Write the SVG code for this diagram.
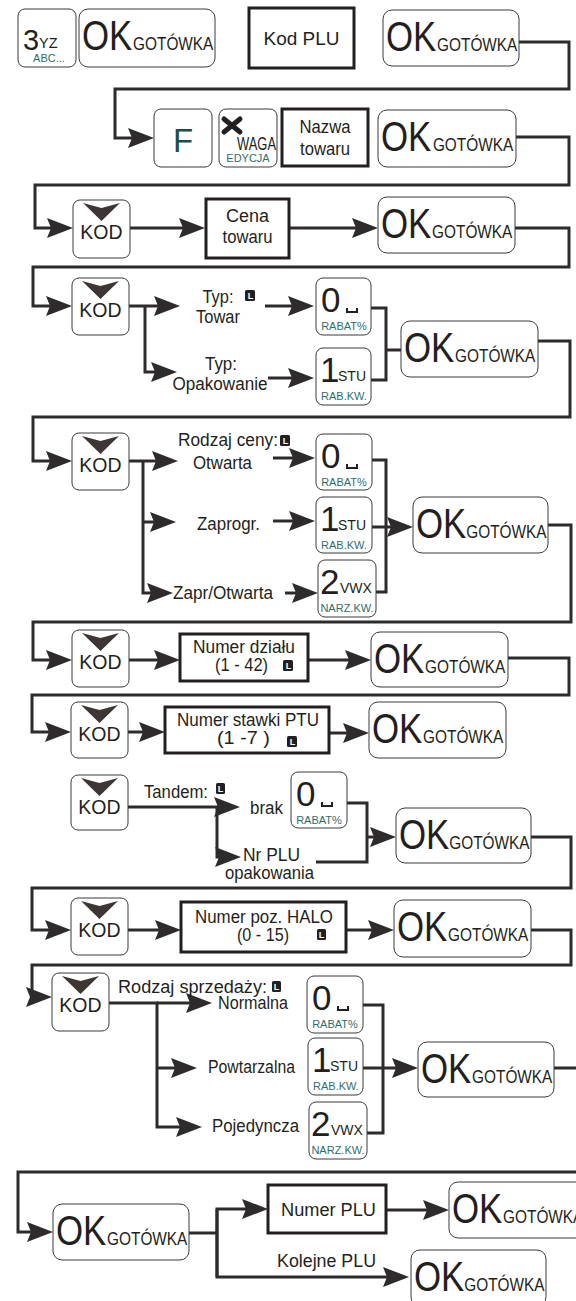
<svg xmlns="http://www.w3.org/2000/svg" width="576" height="1301" viewBox="0 0 576 1301">
<style>
.bg{fill:#fff}
.k{fill:#fff;stroke:#3a3a3a;stroke-width:1}
.bx{fill:#fff;stroke:#231f20;stroke-width:3}
.ln{fill:none;stroke:#2e2b2c;stroke-width:3}
.ar{marker-end:url(#ah)}
.t{font-family:"Liberation Sans",Arial,sans-serif;fill:#231f20}
.m{text-anchor:middle}
.ok{font-size:43px}
.gt{font-size:19px}
.tl{font-size:11px;fill:#2f6e6c;text-anchor:middle}
.dg{font-size:35px}
.sb{font-size:14px}
.kd{font-size:19.5px;text-anchor:middle}
.lb{font-size:17.5px}
.chev{fill:#3d3635}
.li{fill:#231f20}
.lt{font-family:"Liberation Sans",Arial,sans-serif;font-weight:bold;font-size:9px;fill:#fff;text-anchor:middle}
.sp{fill:none;stroke:#231f20;stroke-width:2}
</style>
<defs>
<marker id="ah" markerUnits="userSpaceOnUse" markerWidth="26" markerHeight="20" viewBox="0 0 26 20" refX="16" refY="10" orient="auto"><path d="M0,0 L26,10 L0,20 L4,10 Z" fill="#2e2b2c"/></marker>
</defs>
<rect class="bg" width="576" height="1301"/>

<g id="connectors">
<path class="ln ar" d="M519,42 H569 V89 H115 V138 H144"/>
<path class="ln ar" d="M516,137 H569 V185 H35 V228 H63"/>
<path class="ln ar" d="M130,228 H195"/>
<path class="ln ar" d="M289,228 H368"/>
<path class="ln ar" d="M515,228 H569 V267 H33 V306 H62"/>
<path class="ln ar" d="M129,306 H170"/>
<path class="ln ar" d="M145,306 V372 H167"/>
<path class="ln ar" d="M265,306 H304"/>
<path class="ln ar" d="M268,378 H304"/>
<path class="ln" d="M371,308 H386 V380 H371 M386,350 H401"/>
<path class="ln ar" d="M538,341 H570 V417 H33 V461 H62"/>
<path class="ln ar" d="M129,461 H168"/>
<path class="ln ar" d="M143,461 V593 H163"/>
<path class="ln ar" d="M143,522 H166"/>
<path class="ln ar" d="M273,458 H305"/>
<path class="ln ar" d="M273,521 H305"/>
<path class="ln ar" d="M285,593 H308"/>
<path class="ln" d="M372,460 H386 V592 H376"/>
<path class="ln ar" d="M372,527 H403"/>
<path class="ln ar" d="M548,525 H571 V622 H33 V660 H62"/>
<path class="ln ar" d="M129,660 H170"/>
<path class="ln ar" d="M308,660 H361"/>
<path class="ln ar" d="M508,658 H569 V695 H32 V732 H61"/>
<path class="ln ar" d="M128,732 H155"/>
<path class="ln ar" d="M329,733 H359"/>
<path class="ln ar" d="M128,807 H217 V857 H231"/>
<path class="ln ar" d="M217,807 H230"/>
<path class="ln" d="M347,803 H367 V862 H316"/>
<path class="ln ar" d="M367,837 H386"/>
<path class="ln ar" d="M531,837 H571 V888 H32 V930 H61"/>
<path class="ln ar" d="M128,930 H171"/>
<path class="ln ar" d="M346,930 H384"/>
<path class="ln ar" d="M531,930 H571 V965 H32 V997 H42"/>
<path class="ln ar" d="M109,1003 H157 V1127 H192"/>
<path class="ln ar" d="M157,1003 H202"/>
<path class="ln ar" d="M157,1068 H187"/>
<path class="ln" d="M363,1005 H383 V1133 H367"/>
<path class="ln ar" d="M363,1068 H408"/>
<path class="ln" d="M554,1068 H580"/>
<path class="ln ar" d="M580,1172 H18 V1232 H43"/>
<path class="ln" d="M189,1233 H217"/>
<path class="ln ar" d="M217,1277 V1209 H258"/>
<path class="ln ar" d="M217,1209 V1277 H399"/>
<path class="ln ar" d="M386,1210 H439"/>
</g>

<!-- Row 1 -->
<g id="key3" transform="translate(18,9)">
<rect class="k" width="58" height="58" rx="7"/>
<text class="t" x="5" y="41" font-size="29">3</text>
<text class="t" x="21" y="39" font-size="14.5">YZ</text>
<text class="t tl" x="31" y="53">ABC...</text>
</g>
<g id="ok1" transform="translate(79,9)">
<rect class="k" width="136" height="58" rx="9"/>
<text class="t" transform="translate(3,41) scale(0.81,1)"><tspan class="ok">OK</tspan><tspan class="gt" dx="1">GOTÓWKA</tspan></text>
</g>
<g id="kodplu">
<rect class="bx" x="249" y="8" width="105" height="60"/>
<text class="t lb m" x="301.5" y="45" textLength="76" lengthAdjust="spacingAndGlyphs">Kod PLU</text>
</g>
<g id="ok2" transform="translate(383,10)">
<rect class="k" width="136" height="56" rx="9"/>
<text class="t" transform="translate(3,41) scale(0.81,1)"><tspan class="ok">OK</tspan><tspan class="gt" dx="1">GOTÓWKA</tspan></text>
</g>

<!-- Row 2 -->
<g id="keyF" transform="translate(154,109)">
<rect class="k" width="58" height="58" rx="7"/>
<text class="t m" x="29" y="43" font-size="33" style="fill:#1f4c4b">F</text>
</g>
<g id="keyWaga" transform="translate(219,109)">
<rect class="k" width="58" height="58" rx="7"/>
<path d="M5,10 L21,23 M21,10 L5,23" stroke="#231f20" stroke-width="5" stroke-linecap="round"/>
<text class="t" x="18" y="41" font-size="19" textLength="39" lengthAdjust="spacingAndGlyphs">WAGA</text>
<text class="t tl" x="29" y="53">EDYCJA</text>
</g>
<g id="nazwa">
<rect class="bx" x="282" y="109" width="86" height="57"/>
<text class="t lb m" x="325" y="133" textLength="51" lengthAdjust="spacingAndGlyphs">Nazwa</text>
<text class="t lb m" x="325" y="155" textLength="50" lengthAdjust="spacingAndGlyphs">towaru</text>
</g>
<g id="ok3" transform="translate(378,110)">
<rect class="k" width="138" height="57" rx="9"/>
<text class="t" transform="translate(3,41) scale(0.81,1)"><tspan class="ok">OK</tspan><tspan class="gt" dx="2">GOTÓWKA</tspan></text>
</g>

<!-- Row 3 -->
<g id="kod1" transform="translate(73,200)">
<rect class="k" width="57" height="58" rx="7"/>
<path class="chev" d="M10,3 L28.5,8 L47,3 L28.5,21 Z"/>
<text class="t kd" x="28.5" y="39">KOD</text>
</g>
<g id="cena">
<rect class="bx" x="206" y="199" width="83" height="59"/>
<text class="t lb m" x="247.5" y="222" textLength="43" lengthAdjust="spacingAndGlyphs">Cena</text>
<text class="t lb m" x="247.5" y="243" textLength="50" lengthAdjust="spacingAndGlyphs">towaru</text>
</g>
<g id="ok4" transform="translate(378,197)">
<rect class="k" width="137" height="56" rx="9"/>
<text class="t" transform="translate(3,41) scale(0.81,1)"><tspan class="ok">OK</tspan><tspan class="gt" dx="1">GOTÓWKA</tspan></text>
</g>

<!-- Row 4 -->
<g id="kod2" transform="translate(72,278)">
<rect class="k" width="57" height="57" rx="7"/>
<path class="chev" d="M10,3 L28.5,8 L47,3 L28.5,21 Z"/>
<text class="t kd" x="28.5" y="39">KOD</text>
</g>
<g id="typTowar">
<text class="t lb m" x="218" y="303" textLength="31" lengthAdjust="spacingAndGlyphs">Typ:</text>
<text class="t lb m" x="218" y="323" textLength="44" lengthAdjust="spacingAndGlyphs">Towar</text>
<rect class="li" x="245" y="290" width="10" height="11" rx="1.5"/>
<text class="lt" x="250.5" y="299">L</text>
</g>
<g id="typOpak">
<text class="t lb m" x="221" y="370" textLength="32" lengthAdjust="spacingAndGlyphs">Typ:</text>
<text class="t lb m" x="220" y="390" textLength="95" lengthAdjust="spacingAndGlyphs">Opakowanie</text>
</g>
<g id="key0a" transform="translate(316,278)">
<rect class="k" width="55" height="57" rx="7"/>
<text class="t dg" x="5" y="34">0</text>
<path class="sp" d="M31,30 V34 H41 V30"/>
<text class="t tl" x="28" y="52">RABAT%</text>
</g>
<g id="key1a" transform="translate(316,348)">
<rect class="k" width="55" height="57" rx="7"/>
<text class="t dg" x="4" y="34">1</text>
<text class="t sb" x="22" y="33">STU</text>
<text class="t tl" x="28" y="52">RAB.KW.</text>
</g>
<g id="ok5" transform="translate(401,321)">
<rect class="k" width="137" height="56" rx="9"/>
<text class="t" transform="translate(3,41) scale(0.81,1)"><tspan class="ok">OK</tspan><tspan class="gt" dx="1">GOTÓWKA</tspan></text>
</g>

<!-- Row 5 -->
<g id="kod3" transform="translate(72,433)">
<rect class="k" width="57" height="57" rx="7"/>
<path class="chev" d="M10,3 L28.5,8 L47,3 L28.5,21 Z"/>
<text class="t kd" x="28.5" y="39">KOD</text>
</g>
<g id="rodzajCeny">
<text class="t lb" x="178" y="446" textLength="100" lengthAdjust="spacingAndGlyphs">Rodzaj ceny:</text>
<rect class="li" x="280" y="435" width="10" height="11" rx="1.5"/>
<text class="lt" x="285.5" y="444">L</text>
</g>
<g id="otwarta"><text class="t lb" x="193" y="469" textLength="59" lengthAdjust="spacingAndGlyphs">Otwarta</text></g>
<g id="zaprogr"><text class="t lb" x="197" y="530" textLength="63" lengthAdjust="spacingAndGlyphs">Zaprogr.</text></g>
<g id="zaprOtw"><text class="t lb" x="173" y="599" textLength="100" lengthAdjust="spacingAndGlyphs">Zapr/Otwarta</text></g>
<g id="key0b" transform="translate(316,434)">
<rect class="k" width="56" height="56" rx="7"/>
<text class="t dg" x="5" y="34">0</text>
<path class="sp" d="M31,30 V34 H41 V30"/>
<text class="t tl" x="28" y="52">RABAT%</text>
</g>
<g id="key1b" transform="translate(316,497)">
<rect class="k" width="56" height="56" rx="7"/>
<text class="t dg" x="4" y="34">1</text>
<text class="t sb" x="22" y="33">STU</text>
<text class="t tl" x="28" y="52">RAB.KW.</text>
</g>
<g id="key2b" transform="translate(318,560)">
<rect class="k" width="58" height="57" rx="7"/>
<text class="t dg" x="2" y="34">2</text>
<text class="t sb" x="22" y="33">VWX</text>
<text class="t tl" x="29" y="52">NARZ.KW.</text>
</g>
<g id="ok6" transform="translate(413,497)">
<rect class="k" width="135" height="56" rx="9"/>
<text class="t" transform="translate(3,41) scale(0.81,1)"><tspan class="ok">OK</tspan><tspan class="gt" dx="0">GOTÓWKA</tspan></text>
</g>

<!-- Row 6 -->
<g id="kod4" transform="translate(72,630)">
<rect class="k" width="57" height="57" rx="7"/>
<path class="chev" d="M10,3 L28.5,8 L47,3 L28.5,21 Z"/>
<text class="t kd" x="28.5" y="39">KOD</text>
</g>
<g id="dzial">
<rect class="bx" x="180" y="634" width="128" height="47"/>
<text class="t lb m" x="244" y="653" textLength="102" lengthAdjust="spacingAndGlyphs">Numer działu</text>
<text class="t lb m" x="241.5" y="671" textLength="53" lengthAdjust="spacingAndGlyphs">(1 - 42)</text>
<rect class="li" x="283" y="660" width="10" height="11" rx="1.5"/>
<text class="lt" x="288.5" y="669">L</text>
</g>
<g id="ok7" transform="translate(371,632)">
<rect class="k" width="137" height="55" rx="9"/>
<text class="t" transform="translate(3,41) scale(0.81,1)"><tspan class="ok">OK</tspan><tspan class="gt" dx="1">GOTÓWKA</tspan></text>
</g>

<!-- Row 7 -->
<g id="kod5" transform="translate(71,702)">
<rect class="k" width="57" height="56" rx="7"/>
<path class="chev" d="M10,3 L28.5,8 L47,3 L28.5,21 Z"/>
<text class="t kd" x="28.5" y="39">KOD</text>
</g>
<g id="ptu">
<rect class="bx" x="165" y="707" width="164" height="46"/>
<text class="t lb m" x="248" y="726" textLength="142" lengthAdjust="spacingAndGlyphs">Numer stawki PTU</text>
<text class="t lb m" x="243.5" y="744" textLength="53" lengthAdjust="spacingAndGlyphs">(1  -7 )</text>
<rect class="li" x="287" y="736" width="10" height="11" rx="1.5"/>
<text class="lt" x="292.5" y="745">L</text>
</g>
<g id="ok8" transform="translate(369,702)">
<rect class="k" width="137" height="56" rx="9"/>
<text class="t" transform="translate(3,41) scale(0.81,1)"><tspan class="ok">OK</tspan><tspan class="gt" dx="1">GOTÓWKA</tspan></text>
</g>

<!-- Row 8 -->
<g id="kod6" transform="translate(71,775)">
<rect class="k" width="57" height="55" rx="7"/>
<path class="chev" d="M10,3 L28.5,8 L47,3 L28.5,21 Z"/>
<text class="t kd" x="28.5" y="39">KOD</text>
</g>
<g id="tandem">
<text class="t lb" x="144" y="798" textLength="64" lengthAdjust="spacingAndGlyphs">Tandem:</text>
<rect class="li" x="216" y="783" width="9" height="11" rx="1.5"/>
<text class="lt" x="220.5" y="792">L</text>
</g>
<g id="brak"><text class="t lb" x="250" y="814" textLength="33" lengthAdjust="spacingAndGlyphs">brak</text></g>
<g id="nrPlu">
<text class="t lb" x="243" y="861" textLength="57" lengthAdjust="spacingAndGlyphs">Nr PLU</text>
<text class="t lb" x="225" y="879" textLength="89" lengthAdjust="spacingAndGlyphs">opakowania</text>
</g>
<g id="key0c" transform="translate(291,772)">
<rect class="k" width="56" height="56" rx="7"/>
<text class="t dg" x="5" y="34">0</text>
<path class="sp" d="M31,30 V34 H41 V30"/>
<text class="t tl" x="28" y="52">RABAT%</text>
</g>
<g id="ok9" transform="translate(396,808)">
<rect class="k" width="135" height="55" rx="9"/>
<text class="t" transform="translate(3,41) scale(0.81,1)"><tspan class="ok">OK</tspan><tspan class="gt" dx="0">GOTÓWKA</tspan></text>
</g>

<!-- Row 9 -->
<g id="kod7" transform="translate(71,898)">
<rect class="k" width="57" height="57" rx="7"/>
<path class="chev" d="M10,3 L28.5,8 L47,3 L28.5,21 Z"/>
<text class="t kd" x="28.5" y="39">KOD</text>
</g>
<g id="halo">
<rect class="bx" x="181" y="902" width="165" height="50"/>
<text class="t lb m" x="264" y="923" textLength="138" lengthAdjust="spacingAndGlyphs">Numer poz. HALO</text>
<text class="t lb m" x="263" y="941" textLength="52" lengthAdjust="spacingAndGlyphs">(0 - 15)</text>
<rect class="li" x="317" y="929" width="9" height="11" rx="1.5"/>
<text class="lt" x="321.5" y="938">L</text>
</g>
<g id="ok10" transform="translate(394,900)">
<rect class="k" width="137" height="57" rx="9"/>
<text class="t" transform="translate(3,41) scale(0.81,1)"><tspan class="ok">OK</tspan><tspan class="gt" dx="1">GOTÓWKA</tspan></text>
</g>

<!-- Row 10 -->
<g id="kod8" transform="translate(52,973)">
<rect class="k" width="57" height="58" rx="7"/>
<path class="chev" d="M10,3 L28.5,8 L47,3 L28.5,21 Z"/>
<text class="t kd" x="28.5" y="39">KOD</text>
</g>
<g id="rodzajSprz">
<text class="t lb" x="118" y="993" textLength="149" lengthAdjust="spacingAndGlyphs">Rodzaj sprzedaży:</text>
<rect class="li" x="272" y="981" width="9" height="11" rx="1.5"/>
<text class="lt" x="276.5" y="990">L</text>
</g>
<g id="normalna"><text class="t lb" x="218" y="1009" textLength="70" lengthAdjust="spacingAndGlyphs">Normalna</text></g>
<g id="powtarzalna"><text class="t lb" x="208" y="1073" textLength="87" lengthAdjust="spacingAndGlyphs">Powtarzalna</text></g>
<g id="pojedyncza"><text class="t lb" x="212" y="1132" textLength="87" lengthAdjust="spacingAndGlyphs">Pojedyncza</text></g>
<g id="key0d" transform="translate(307,976)">
<rect class="k" width="56" height="57" rx="7"/>
<text class="t dg" x="5" y="34">0</text>
<path class="sp" d="M31,30 V34 H41 V30"/>
<text class="t tl" x="28" y="52">RABAT%</text>
</g>
<g id="key1d" transform="translate(308,1038)">
<rect class="k" width="55" height="57" rx="7"/>
<text class="t dg" x="4" y="34">1</text>
<text class="t sb" x="22" y="33">STU</text>
<text class="t tl" x="28" y="52">RAB.KW.</text>
</g>
<g id="key2d" transform="translate(309,1102)">
<rect class="k" width="58" height="57" rx="7"/>
<text class="t dg" x="2" y="34">2</text>
<text class="t sb" x="22" y="33">VWX</text>
<text class="t tl" x="29" y="52">NARZ.KW.</text>
</g>
<g id="ok11" transform="translate(418,1042)">
<rect class="k" width="136" height="55" rx="9"/>
<text class="t" transform="translate(3,41) scale(0.81,1)"><tspan class="ok">OK</tspan><tspan class="gt" dx="1">GOTÓWKA</tspan></text>
</g>

<!-- Row 11 -->
<g id="ok12" transform="translate(53,1204)">
<rect class="k" width="136" height="56" rx="9"/>
<text class="t" transform="translate(3,41) scale(0.81,1)"><tspan class="ok">OK</tspan><tspan class="gt" dx="1">GOTÓWKA</tspan></text>
</g>
<g id="numerPlu">
<rect class="bx" x="268" y="1185" width="118" height="48"/>
<text class="t lb m" x="328.5" y="1216" textLength="95" lengthAdjust="spacingAndGlyphs">Numer PLU</text>
</g>
<g id="kolejne"><text class="t lb" x="277" y="1267" textLength="99" lengthAdjust="spacingAndGlyphs">Kolejne PLU</text></g>
<g id="ok13" transform="translate(449,1182)">
<rect class="k" width="137" height="56" rx="9"/>
<text class="t" transform="translate(3,41) scale(0.81,1)"><tspan class="ok">OK</tspan><tspan class="gt" dx="1">GOTÓWKA</tspan></text>
</g>
<g id="ok14" transform="translate(411,1250)">
<rect class="k" width="135" height="56" rx="9"/>
<text class="t" transform="translate(3,41) scale(0.81,1)"><tspan class="ok">OK</tspan><tspan class="gt" dx="0">GOTÓWKA</tspan></text>
</g>
</svg>
